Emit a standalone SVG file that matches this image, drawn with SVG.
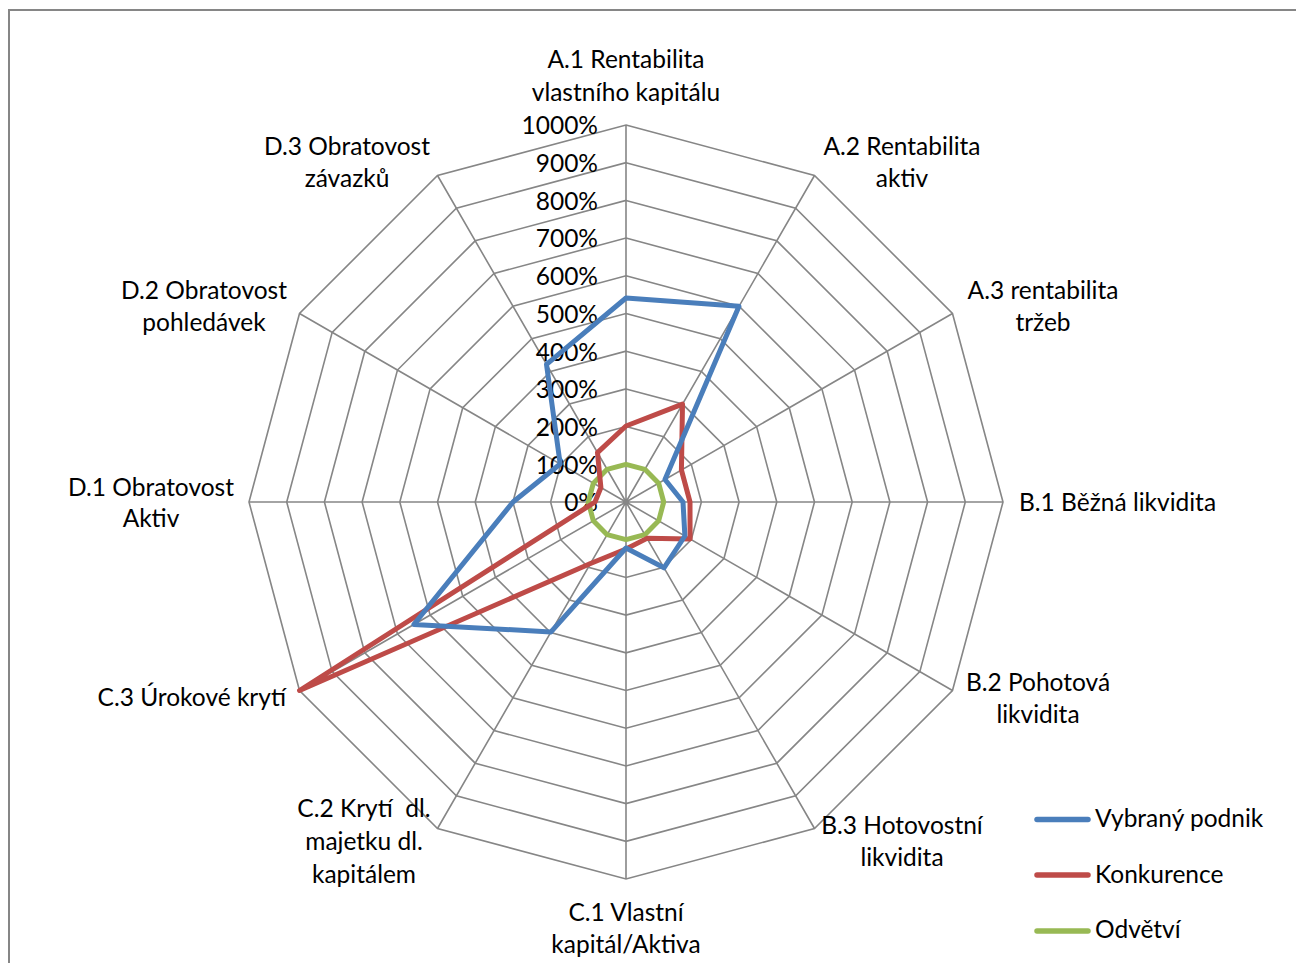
<svg xmlns="http://www.w3.org/2000/svg" width="1296" height="963" viewBox="0 0 1296 963">
<style>
.t{font-family:Lato,"Open Sans","Liberation Sans",sans-serif;font-size:24.5px;fill:#000}
.m{text-anchor:middle}
.e{text-anchor:end}
.grid{fill:none;stroke:#868686;stroke-width:1.6}
.s{fill:none;stroke-width:5;stroke-linejoin:round}
.blue{stroke:#4A7EBB}
.red{stroke:#BE4B48}
.green{stroke:#98B954}
.leg{stroke-width:5.5;stroke-linecap:round}
</style>
<rect x="0" y="0" width="1296" height="963" fill="#fff"/>
<rect x="9" y="10" width="1300" height="980" fill="none" stroke="#868686" stroke-width="2"/>
<g id="grid" transform="translate(626 502)">
<polygon class="grid" points="0,-37.7 18.85,-32.65 32.65,-18.85 37.7,0 32.65,18.85 18.85,32.65 0,37.7 -18.85,32.65 -32.65,18.85 -37.7,0 -32.65,-18.85 -18.85,-32.65"/>
<polygon class="grid" points="0,-75.4 37.7,-65.3 65.3,-37.7 75.4,0 65.3,37.7 37.7,65.3 0,75.4 -37.7,65.3 -65.3,37.7 -75.4,0 -65.3,-37.7 -37.7,-65.3"/>
<polygon class="grid" points="0,-113.1 56.55,-97.94 97.94,-56.55 113.1,0 97.94,56.55 56.55,97.94 0,113.1 -56.55,97.94 -97.94,56.55 -113.1,0 -97.94,-56.55 -56.55,-97.94"/>
<polygon class="grid" points="0,-150.8 75.4,-130.59 130.59,-75.4 150.8,0 130.59,75.4 75.4,130.59 0,150.8 -75.4,130.59 -130.59,75.4 -150.8,0 -130.59,-75.4 -75.4,-130.59"/>
<polygon class="grid" points="0,-188.5 94.25,-163.24 163.24,-94.25 188.5,0 163.24,94.25 94.25,163.24 0,188.5 -94.25,163.24 -163.24,94.25 -188.5,0 -163.24,-94.25 -94.25,-163.24"/>
<polygon class="grid" points="0,-226.2 113.1,-195.89 195.89,-113.1 226.2,0 195.89,113.1 113.1,195.89 0,226.2 -113.1,195.89 -195.89,113.1 -226.2,0 -195.89,-113.1 -113.1,-195.89"/>
<polygon class="grid" points="0,-263.9 131.95,-228.54 228.54,-131.95 263.9,0 228.54,131.95 131.95,228.54 0,263.9 -131.95,228.54 -228.54,131.95 -263.9,0 -228.54,-131.95 -131.95,-228.54"/>
<polygon class="grid" points="0,-301.6 150.8,-261.19 261.19,-150.8 301.6,0 261.19,150.8 150.8,261.19 0,301.6 -150.8,261.19 -261.19,150.8 -301.6,0 -261.19,-150.8 -150.8,-261.19"/>
<polygon class="grid" points="0,-339.3 169.65,-293.83 293.83,-169.65 339.3,0 293.83,169.65 169.65,293.83 0,339.3 -169.65,293.83 -293.83,169.65 -339.3,0 -293.83,-169.65 -169.65,-293.83"/>
<polygon class="grid" points="0,-377 188.5,-326.48 326.48,-188.5 377,0 326.48,188.5 188.5,326.48 0,377 -188.5,326.48 -326.48,188.5 -377,0 -326.48,-188.5 -188.5,-326.48"/>
<path class="grid" d="M0,0L0,-377M0,0L188.5,-326.48M0,0L326.48,-188.5M0,0L377,0M0,0L326.48,188.5M0,0L188.5,326.48M0,0L0,377M0,0L-188.5,326.48M0,0L-326.48,188.5M0,0L-377,0M0,0L-326.48,-188.5M0,0L-188.5,-326.48"/>
</g>
<g id="scale" class="t e">
<text x="598" y="511">0%</text>
<text x="598" y="473.6">100%</text>
<text x="598" y="435.9">200%</text>
<text x="598" y="398.2">300%</text>
<text x="598" y="360.5">400%</text>
<text x="598" y="322.8">500%</text>
<text x="598" y="285.1">600%</text>
<text x="598" y="247.4">700%</text>
<text x="598" y="209.7">800%</text>
<text x="598" y="172">900%</text>
<text x="598" y="134.3">1000%</text>
</g>
<g id="series" transform="translate(626 502)">
<polygon id="odvetvi" class="s green" points="0,-37.7 18.85,-32.65 32.65,-18.85 37.7,0 32.65,18.85 18.85,32.65 0,37.7 -18.85,32.65 -32.65,18.85 -37.7,0 -32.65,-18.85 -18.85,-32.65"/>
<polygon id="konkurence" class="s red" points="0,-76 56.5,-97.86 55.42,-32 64,0 64.08,37 21,36.37 0,47 -35.5,61.49 -326.48,188.5 -31,0 -25.11,-14.5 -28.5,-49.36"/>
<polygon id="vybrany" class="s blue" points="0,-204 113,-195.7 38.97,-22.5 57,0 58.89,34 38,65.82 0,46 -75,129.9 -212.2,122.5 -113,0 -65.82,-38 -79.5,-137.7"/>
</g>
<g id="labels" class="t">
<g id="lab-a1" class="m"><text x="626" y="68">A.1 Rentabilita</text><text x="626" y="101">vlastního kapitálu</text></g>
<g id="lab-a2" class="m"><text x="902" y="155">A.2 Rentabilita</text><text x="902" y="187">aktiv</text></g>
<g id="lab-a3" class="m"><text x="1043" y="299">A.3 rentabilita</text><text x="1043" y="331">tržeb</text></g>
<g id="lab-b1"><text x="1019" y="511">B.1 Běžná likvidita</text></g>
<g id="lab-b2" class="m"><text x="1038" y="691">B.2 Pohotová</text><text x="1038" y="723">likvidita</text></g>
<g id="lab-b3" class="m"><text x="902" y="834">B.3 Hotovostní</text><text x="902" y="866">likvidita</text></g>
<g id="lab-c1" class="m"><text x="626" y="921">C.1 Vlastní</text><text x="626" y="953">kapitál/Aktiva</text></g>
<g id="lab-c2" class="m"><text x="364" y="817" xml:space="preserve">C.2 Krytí  dl.</text><text x="364" y="850">majetku dl.</text><text x="364" y="883">kapitálem</text></g>
<g id="lab-c3" class="e"><text x="286" y="706">C.3 Úrokové krytí</text></g>
<g id="lab-d1" class="m"><text x="151" y="496">D.1 Obratovost</text><text x="151" y="527">Aktiv</text></g>
<g id="lab-d2" class="m"><text x="204" y="299">D.2 Obratovost</text><text x="204" y="331">pohledávek</text></g>
<g id="lab-d3" class="m"><text x="347" y="155">D.3 Obratovost</text><text x="347" y="187">závazků</text></g>
</g>
<g id="legend">
<line class="leg blue" x1="1037" y1="819.5" x2="1088" y2="819.5"/>
<line class="leg red" x1="1037" y1="875" x2="1088" y2="875"/>
<line class="leg green" x1="1037" y1="931" x2="1088" y2="931"/>
<text class="t" x="1095" y="827">Vybraný podnik</text>
<text class="t" x="1095" y="883">Konkurence</text>
<text class="t" x="1095" y="938">Odvětví</text>
</g>
</svg>
